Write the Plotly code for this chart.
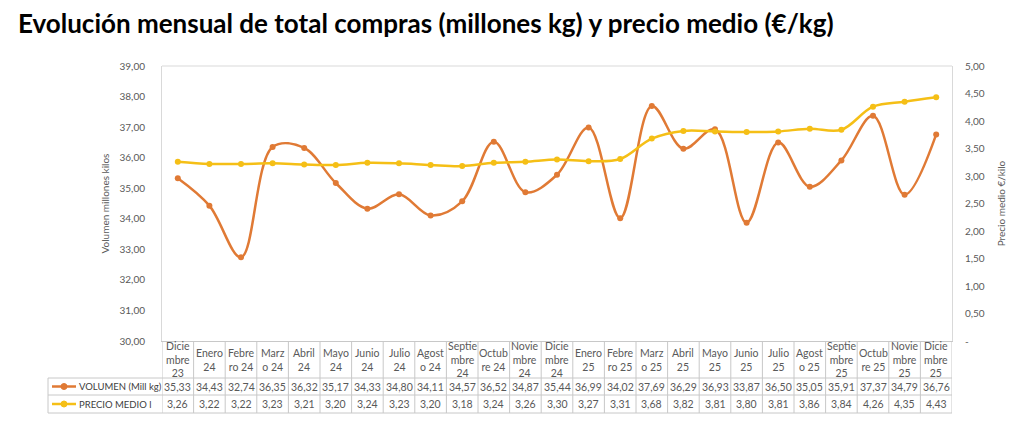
import plotly.graph_objects as go

# Categories (as wrapped in the Excel data table)
meses = [
    "Dicie<br>mbre<br>23", "Enero<br>24", "Febre<br>ro 24", "Marz<br>o 24", "Abril<br>24",
    "Mayo<br>24", "Junio<br>24", "Julio<br>24", "Agost<br>o 24", "Septie<br>mbre<br>24",
    "Octub<br>re 24", "Novie<br>mbre<br>24", "Dicie<br>mbre<br>24", "Enero<br>25",
    "Febre<br>ro 25", "Marz<br>o 25", "Abril<br>25", "Mayo<br>25", "Junio<br>25",
    "Julio<br>25", "Agost<br>o 25", "Septie<br>mbre<br>25", "Octub<br>re 25",
    "Novie<br>mbre<br>25", "Dicie<br>mbre<br>25",
]

volumen = [35.33, 34.43, 32.74, 36.35, 36.32, 35.17, 34.33, 34.80, 34.11, 34.57, 36.52, 34.87,
           35.44, 36.99, 34.02, 37.69, 36.29, 36.93, 33.87, 36.50, 35.05, 35.91, 37.37, 34.79, 36.76]
precio = [3.26, 3.22, 3.22, 3.23, 3.21, 3.20, 3.24, 3.23, 3.20, 3.18, 3.24, 3.26,
          3.30, 3.27, 3.31, 3.68, 3.82, 3.81, 3.80, 3.81, 3.86, 3.84, 4.26, 4.35, 4.43]

serie_vol = "VOLUMEN (Mill kg)"
serie_pre = "PRECIO MEDIO l"

ticks_izq = [30, 31, 32, 33, 34, 35, 36, 37, 38, 39]
ticks_der = [0, 0.5, 1.0, 1.5, 2.0, 2.5, 3.0, 3.5, 4.0, 4.5, 5.0]

NARANJA = "#E07A35"
AMARILLO = "#F5BF16"
GRIS_TXT = "#595959"
GRIS_LIN = "#C8C8C8"
FUENTE = "Lato, 'Open Sans', sans-serif"

# the page adds an 8px body margin, so the figure is 8px smaller
OFF = 8
W, H = 1024 - OFF, 437 - OFF
ML, MR, MT, MB = 162 - OFF, 72, 66 - OFF, 96
PH = H - MT - MB
PW = W - ML - MR


def py(px):
    # pixel in the reference (from top) -> paper y
    return (H - MB - (px - OFF)) / PH


def px_x(px):
    return (px - OFF - ML) / PW


def fmt(v):
    return f"{v:.2f}".replace(".", ",")


x = list(range(len(meses)))

fig = go.Figure()
fig.add_trace(go.Scatter(
    x=x, y=volumen, name=serie_vol, mode="lines+markers",
    line=dict(color=NARANJA, width=2.5, shape="spline", smoothing=1.0),
    marker=dict(color=NARANJA, size=6), yaxis="y", cliponaxis=False,
))
fig.add_trace(go.Scatter(
    x=x, y=precio, name=serie_pre, mode="lines+markers",
    line=dict(color=AMARILLO, width=2.5, shape="spline", smoothing=1.0),
    marker=dict(color=AMARILLO, size=6), yaxis="y2", cliponaxis=False,
))

# Data table under the chart
y_cat = py(359.5)
y_r1 = py(386.5)
y_r2 = py(404)
annotations = []
for i, m in enumerate(meses):
    annotations.append(dict(x=i, y=y_cat, xref="x", yref="paper", text=m, showarrow=False,
                            font=dict(size=10.5, color=GRIS_TXT, family=FUENTE),
                            xanchor="center", yanchor="middle", align="center"))
    annotations.append(dict(x=i, y=y_r1, xref="x", yref="paper", text=fmt(volumen[i]), showarrow=False,
                            font=dict(size=10.5, color=GRIS_TXT, family=FUENTE),
                            xanchor="center", yanchor="middle"))
    annotations.append(dict(x=i, y=y_r2, xref="x", yref="paper", text=fmt(precio[i]), showarrow=False,
                            font=dict(size=10.5, color=GRIS_TXT, family=FUENTE),
                            xanchor="center", yanchor="middle"))

annotations.append(dict(x=px_x(77), y=y_r1, xref="paper", yref="paper", text=serie_vol, showarrow=False,
                        font=dict(size=9.5, color="#404040", family=FUENTE), xanchor="left", yanchor="middle"))
annotations.append(dict(x=px_x(77), y=y_r2, xref="paper", yref="paper", text=serie_pre, showarrow=False,
                        font=dict(size=9.5, color="#404040", family=FUENTE), xanchor="left", yanchor="middle"))

shapes = []
y_top = py(341)
y_l1 = py(378)
y_l2 = py(395)
y_bot = py(413)
x_leg = px_x(48)
for yy in (y_l1, y_l2, y_bot):
    shapes.append(dict(type="line", xref="paper", yref="paper", x0=x_leg, x1=1, y0=yy, y1=yy,
                       line=dict(color=GRIS_LIN, width=1)))
shapes.append(dict(type="line", xref="paper", yref="paper", x0=x_leg, x1=x_leg, y0=y_l1, y1=y_bot,
                   line=dict(color=GRIS_LIN, width=1)))
for i in range(len(meses) + 1):
    shapes.append(dict(type="line", xref="x", yref="paper", x0=i - 0.5, x1=i - 0.5, y0=y_top, y1=y_bot,
                       line=dict(color=GRIS_LIN, width=1)))

# legend keys inside the table
for yy, col in ((y_r1, NARANJA), (y_r2, AMARILLO)):
    shapes.append(dict(type="line", xref="paper", yref="paper", x0=px_x(52), x1=px_x(76), y0=yy, y1=yy,
                       line=dict(color=col, width=2.5)))
    r = 3 / PH
    rx = 3 / PW
    shapes.append(dict(type="circle", xref="paper", yref="paper", x0=px_x(64) - rx, x1=px_x(64) + rx,
                       y0=yy - r, y1=yy + r, fillcolor=col, line=dict(color=col, width=1)))

fig.update_layout(
    width=W, height=H,
    margin=dict(l=ML, r=MR, t=MT, b=MB, autoexpand=False),
    paper_bgcolor="white", plot_bgcolor="white",
    showlegend=False,
    separators=",.",
    font=dict(family=FUENTE, color=GRIS_TXT, size=10),
    title=dict(text="<b>Evolución mensual de total compras (millones kg) y precio medio (€/kg)</b>",
               xref="container", yref="container", x=(18 - OFF) / W, y=1 - (24 - OFF) / H,
               xanchor="left", yanchor="middle",
               font=dict(size=26, color="#000000", family=FUENTE)),
    xaxis=dict(range=[-0.5, len(meses) - 0.5], showticklabels=False, showgrid=False, zeroline=False,
               showline=True, linecolor=GRIS_LIN, mirror=False, ticks="", automargin=False),
    yaxis=dict(range=[30, 39], tickvals=ticks_izq, tickformat=".2f", showgrid=False, zeroline=False,
               showline=True, linecolor="#D9D9D9", mirror=False, ticklabelstandoff=14, automargin=False,
               tickfont=dict(size=10, color=GRIS_TXT),
               title=dict(text="Volumen millones kilos", font=dict(size=10, color=GRIS_TXT), standoff=8)),
    yaxis2=dict(range=[0, 5], overlaying="y", side="right", tickvals=ticks_der,
                ticktext=["-" if v == 0 else fmt(v) for v in ticks_der], automargin=False,
                showgrid=False, zeroline=False, showline=True, linecolor="#D9D9D9",
                ticklabelstandoff=10, tickfont=dict(size=10, color=GRIS_TXT),
                title=dict(text="Precio medio €/kilo", font=dict(size=10, color=GRIS_TXT), standoff=14)),
    annotations=annotations,
    shapes=shapes,
)
fig.add_shape(type="line", xref="paper", yref="paper", x0=0, x1=1, y0=1, y1=1,
              line=dict(color="#D9D9D9", width=1))

fig.write_html("out.html")
